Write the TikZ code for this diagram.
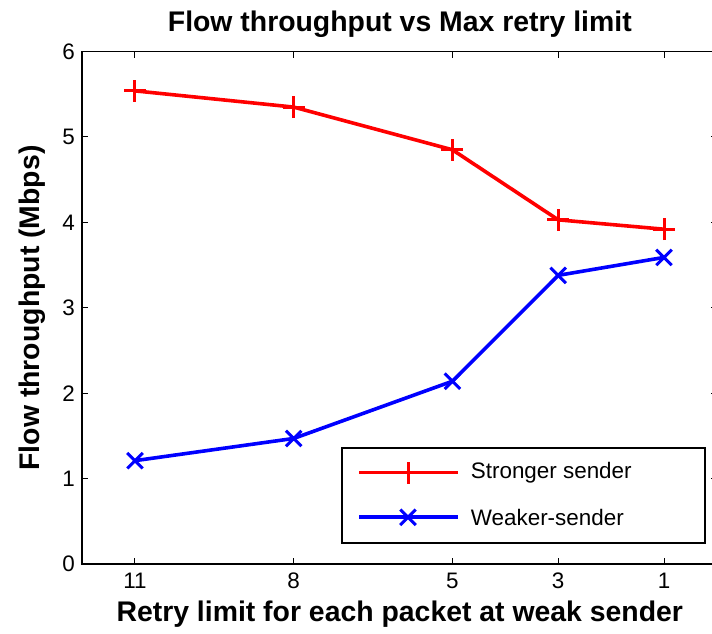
\documentclass[tikz,border=0pt]{standalone}
\usepackage{fontspec}
\setmainfont{Liberation Sans}
\usetikzlibrary{shapes.misc}
\begin{document}
\begin{tikzpicture}[x=1bp,y=1bp]
\tikzstyle{every node}=[inner sep=0pt]
\tikzstyle{lab}=[font=\fontsize{28.5}{32}\selectfont\bfseries]
\tikzstyle{ticklab}=[font=\fontsize{22.5}{26}\selectfont]
\tikzstyle{smark}=[draw=red,cross out,rotate=45,minimum size=12.5bp,line width=3bp]
\tikzstyle{wmark}=[draw=blue,cross out,minimum size=12.5bp,line width=3bp]
\useasboundingbox (0,0) rectangle (712,634);
\begin{scope}[shift={(716.9,70)},x=-52.9bp,y=85.4bp]
% axes
\draw[line width=1.3bp] (0,0) rectangle (12,6);
\foreach \r in {11,8,5,3,1} {
  \draw[line width=1bp] (\r,0) -- +(0,6bp) (\r,6) -- +(0,-6bp);
  \node[ticklab,anchor=north] (xt\r) at ([yshift=-9bp]\r,0) {\r};
}
\foreach \v in {0,...,6} {
  \draw[line width=1bp] (12,\v) -- +(6bp,0) (0,\v) -- +(-6bp,0);
  \node[ticklab,anchor=east] (yt\v) at ([xshift=-7bp]12,\v) {\v};
}
% stronger sender
\node[smark] (s0) at (11,5.54) {};
\node[smark] (s1) at (8,5.35) {};
\node[smark] (s2) at (5,4.85) {};
\node[smark] (s3) at (3,4.03) {};
\node[smark] (s4) at (1,3.92) {};
% weaker sender
\node[wmark] (w0) at (11,1.21) {};
\node[wmark] (w1) at (8,1.47) {};
\node[wmark] (w2) at (5,2.14) {};
\node[wmark] (w3) at (3,3.38) {};
\node[wmark] (w4) at (1,3.59) {};
\draw[red,line width=3.6bp,line join=round] (s0.center) -- (s1.center) -- (s2.center) -- (s3.center) -- (s4.center);
\draw[blue,line width=3.6bp,line join=round] (w0.center) -- (w1.center) -- (w2.center) -- (w3.center) -- (w4.center);
\end{scope}
% legend
\draw[line width=1.3bp,fill=white] (342,91) rectangle (705,186);
\coordinate (ls1) at (359,161.3);
\coordinate (ls2) at (458,161.3);
\node[smark] (lsm) at (408,161.3) {};
\draw[red,line width=3.6bp] (ls1) -- (ls2);
\node[ticklab,anchor=west] (lst) at (470.7,161.3) {Stronger sender};
\coordinate (lw1) at (359,116.7);
\coordinate (lw2) at (458,116.7);
\node[wmark] (lwm) at (408,116.7) {};
\draw[blue,line width=3.6bp] (lw1) -- (lw2);
\node[ticklab,anchor=west] (lwt) at (470.7,116.7) {Weaker-sender};
% labels
\node[lab] (title) at (399.8,610) {Flow throughput vs Max retry limit};
\node[lab] (xlab) at (399.8,20) {Retry limit for each packet at weak sender};
\node[lab,rotate=90] (ylab) at (32,326) {Flow throughput (Mbps)};
\end{tikzpicture}
\end{document}
